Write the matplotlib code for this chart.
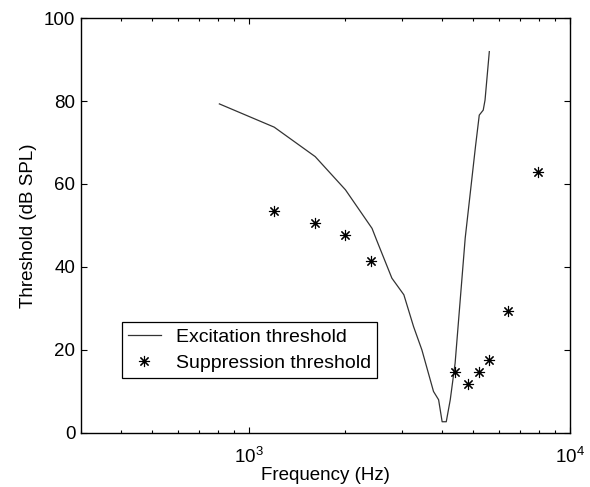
import matplotlib
matplotlib.use("Agg")
import matplotlib.pyplot as plt
from matplotlib.ticker import LogLocator, NullFormatter, FixedLocator

plt.rcParams["font.family"] = ["Liberation Sans", "DejaVu Sans"]
plt.rcParams["mathtext.fontset"] = "custom"
plt.rcParams["mathtext.rm"] = "Liberation Sans"
plt.rcParams["mathtext.it"] = "Liberation Sans"

# excitation tuning curve (Hz, dB SPL)
exc_freq = [810, 1200, 1610, 2000, 2420, 2500, 2790, 3040, 3260, 3460, 3760,
            3900, 4000, 4120, 4240, 4390, 4720, 5080, 5220, 5370, 5440, 5610]
exc_level = [79.3, 73.7, 66.6, 58.6, 49.3, 46.5, 37.3, 33.3, 25.6, 20.0, 10.0,
             8.0, 2.7, 2.7, 8.0, 16.8, 47.0, 69.0, 76.6, 77.8, 80.2, 91.9]

# two-tone suppression thresholds
sup_freq = [1200, 1610, 2000, 2410, 4390, 4800, 5220, 5580, 6410, 7930]
sup_level = [53.6, 50.7, 47.7, 41.5, 14.8, 11.8, 14.6, 17.6, 29.5, 62.8]

fig = plt.figure(figsize=(5.9, 4.87), dpi=100)
ax = fig.add_axes([0.137, 0.111, 0.829, 0.852])

ax.plot(exc_freq, exc_level, color="#333333", lw=0.9, label="Excitation threshold")
ax.plot(sup_freq, sup_level, ls="none", marker=(8, 2, 0), ms=8, mew=0.8,
        color="black", label="Suppression threshold")

ax.set_xscale("log")
ax.set_xlim(300, 10000)
ax.set_ylim(0, 100)
ax.xaxis.set_major_locator(FixedLocator([1e3, 1e4]))
ax.xaxis.set_minor_locator(LogLocator(base=10, subs=range(2, 10)))
ax.xaxis.set_minor_formatter(NullFormatter())
ax.set_yticks([0, 20, 40, 60, 80, 100])

ax.tick_params(which="both", direction="in", top=True, right=True, labelsize=13.5)
ax.tick_params(which="major", length=4, width=0.8)
ax.tick_params(which="minor", length=2.5, width=0.8)
ax.tick_params(axis="x", pad=10)
ax.tick_params(axis="y", pad=4)
for s in ax.spines.values():
    s.set_linewidth(1.0)

ax.set_xlabel("Frequency (Hz)", fontsize=13.5, labelpad=0)
ax.set_ylabel("Threshold (dB SPL)", fontsize=13.5, labelpad=5)

leg = ax.legend(loc="lower left", bbox_to_anchor=(0.084, 0.133), borderaxespad=0,
                fontsize=14, fancybox=False, edgecolor="black", framealpha=1,
                handlelength=1.7, handletextpad=0.8, borderpad=0.3,
                labelspacing=0.45)
leg.get_frame().set_linewidth(0.9)

fig.savefig("out.png", dpi=100)
